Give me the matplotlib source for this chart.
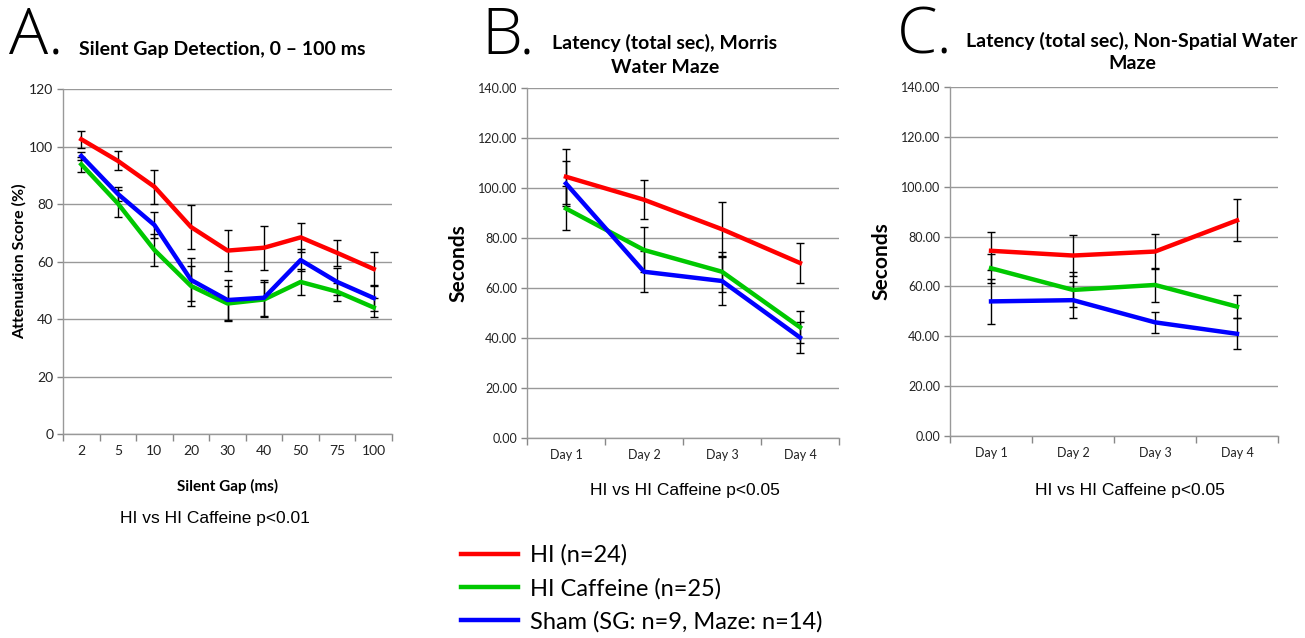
import matplotlib
matplotlib.use("Agg")
import matplotlib.pyplot as plt
import numpy as np

plt.rcParams['font.family'] = ['Lato', 'DejaVu Sans']

# ---- Data ----
gap_labels = ["2", "5", "10", "20", "30", "40", "50", "75", "100"]
gap_hi = [102.5, 95.0, 86.0, 72.0, 63.8, 64.8, 68.4, 63.0, 57.4]
gap_hi_err = [3.0, 3.3, 6.0, 7.6, 7.2, 7.7, 5.1, 4.6, 5.8]
gap_caf = [93.8, 80.2, 64.0, 51.5, 45.4, 46.8, 52.9, 49.5, 44.0]
gap_caf_err = [2.6, 4.6, 5.5, 7.0, 6.2, 6.0, 4.5, 3.2, 3.4]
gap_sham = [96.7, 83.5, 72.7, 53.6, 46.6, 47.4, 60.5, 52.9, 47.3]
gap_sham_err = [1.4, 2.3, 4.4, 7.5, 7.0, 6.2, 3.8, 4.7, 4.5]

days = ["Day 1", "Day 2", "Day 3", "Day 4"]
mwm_hi = [104.5, 95.3, 83.5, 70.0]
mwm_hi_err = [11.0, 7.8, 11.0, 8.0]
mwm_caf = [91.8, 75.2, 66.5, 44.3]
mwm_caf_err = [8.8, 9.0, 8.0, 6.4]
mwm_sham = [101.8, 66.5, 62.8, 40.2]
mwm_sham_err = [9.0, 8.3, 9.8, 6.2]

ns_hi = [74.3, 72.4, 74.0, 86.5]
ns_hi_err = [7.6, 8.3, 7.1, 8.4]
ns_caf = [67.3, 58.6, 60.6, 51.9]
ns_caf_err = [5.8, 7.0, 6.8, 4.7]
ns_sham = [54.0, 54.5, 45.6, 41.0]
ns_sham_err = [9.0, 7.3, 4.1, 6.2]

series_names = ["HI (n=24)", "HI Caffeine (n=25)", "Sham (SG: n=9, Maze: n=14)"]
colors = ["#FF0000", "#00C800", "#0000FF"]

fig = plt.figure(figsize=(13.05, 6.38), dpi=100)

def style_axis(ax, labels, ymax, ystep, fmt, tick_fs):
    n = len(labels)
    ax.set_xlim(-0.5, n - 0.5)
    ax.set_ylim(0, ymax)
    ax.set_xticks(range(n))
    ax.set_xticklabels(labels, fontsize=tick_fs, color="#222222")
    ax.set_xticks(np.arange(-0.5, n, 1.0), minor=True)
    ax.tick_params(axis='x', which='major', length=0, pad=8)
    ax.tick_params(axis='x', which='minor', length=5, color="#888888", width=1, direction='out')
    yt = np.arange(0, ymax + 0.1, ystep)
    ax.set_yticks(yt)
    ax.set_yticklabels([fmt.format(v) for v in yt], fontsize=tick_fs, color="#222222")
    ax.tick_params(axis='y', length=4, color="#888888", width=1, pad=3)
    ax.grid(axis='y', color="#999999", linewidth=1)
    ax.set_axisbelow(True)
    for s in ["top", "right"]:
        ax.spines[s].set_visible(False)
    for s in ["left", "bottom"]:
        ax.spines[s].set_color("#999999")
        ax.spines[s].set_linewidth(1)

def draw_series(ax, vals_list, errs_list):
    x = np.arange(len(vals_list[0]))
    for vals, errs in zip(vals_list, errs_list):
        ax.errorbar(x, vals, yerr=errs, fmt='none', ecolor='black', elinewidth=1,
                    capsize=3, capthick=1, zorder=2)
    lines = []
    for vals, c in zip(vals_list, colors):
        ln, = ax.plot(x, vals, color=c, linewidth=3.2, zorder=3, solid_joinstyle='round')
        lines.append(ln)
    return lines

# Panel A
axA = fig.add_axes([0.0483, 0.3197, 0.2521, 0.5408])
style_axis(axA, gap_labels, 120, 20, "{:.0f}", 10)
lines = draw_series(axA, [gap_hi, gap_caf, gap_sham], [gap_hi_err, gap_caf_err, gap_sham_err])
axA.set_ylabel("Attenuation Score (%)", fontsize=11.5, fontweight='bold', labelpad=2)
axA.set_xlabel("Silent Gap (ms)", fontsize=11, fontweight='bold', labelpad=16)

# Panel B
axB = fig.add_axes([0.4038, 0.3135, 0.2391, 0.5486])
style_axis(axB, days, 140, 20, "{:.2f}", 9)
draw_series(axB, [mwm_hi, mwm_caf, mwm_sham], [mwm_hi_err, mwm_caf_err, mwm_sham_err])
axB.set_ylabel("Seconds", fontsize=15, fontweight='bold', labelpad=7)

# Panel C
axC = fig.add_axes([0.728, 0.3166, 0.2513, 0.547])
style_axis(axC, days, 140, 20, "{:.2f}", 9)
draw_series(axC, [ns_hi, ns_caf, ns_sham], [ns_hi_err, ns_caf_err, ns_sham_err])
axC.set_ylabel("Seconds", fontsize=15, fontweight='bold', labelpad=7)

# Titles and panel letters (figure coords)
def fx(px):
    return px / 1305.0
def fy(py):
    return 1 - py / 638.0

letter_font = ['Open Sans', 'DejaVu Sans']
fig.text(fx(9), fy(37), "A.", fontsize=47, va='center', ha='left', family=letter_font, fontweight='light')
fig.text(fx(481), fy(37), "B.", fontsize=47, va='center', ha='left', family=letter_font, fontweight='light')
fig.text(fx(897), fy(37), "C.", fontsize=47, va='center', ha='left', family=letter_font, fontweight='light')

fig.text(fx(222), fy(50), "Silent Gap Detection, 0 \u2013 100 ms", fontsize=14, fontweight='bold',
         ha='center', va='center')
fig.text(fx(665), fy(55), "Latency (total sec), Morris\nWater Maze", fontsize=14, fontweight='bold',
         ha='center', va='center', linespacing=1.45)
fig.text(fx(1132), fy(52), "Latency (total sec), Non-Spatial Water\nMaze", fontsize=14, fontweight='bold',
         ha='center', va='center', linespacing=1.4)

note_font = ['Liberation Sans', 'DejaVu Sans']
fig.text(fx(215), fy(519), "HI vs HI Caffeine p<0.01", fontsize=12.5, ha='center', va='center', family=note_font)
fig.text(fx(685), fy(491), "HI vs HI Caffeine p<0.05", fontsize=12.5, ha='center', va='center', family=note_font)
fig.text(fx(1130), fy(491), "HI vs HI Caffeine p<0.05", fontsize=12.5, ha='center', va='center', family=note_font)

leg = fig.legend(lines, series_names, loc='upper left', bbox_to_anchor=(fx(452), fy(535)),
                 frameon=False, fontsize=17, handlelength=2.4, handletextpad=0.5,
                 labelspacing=0.5, borderaxespad=0)

fig.savefig("out.png", dpi=100)
